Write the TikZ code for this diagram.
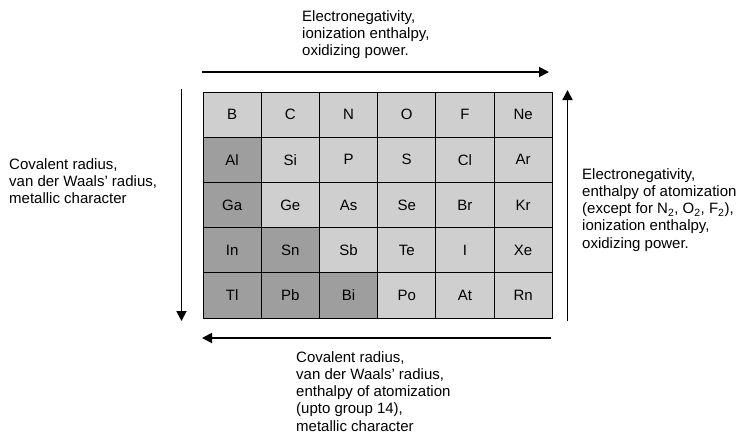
\documentclass[tikz,border=0pt]{standalone}
\usepackage{fontspec}
\setmainfont{Liberation Sans}
\usetikzlibrary{arrows.meta, positioning}

\begin{document}
\begin{tikzpicture}[
  x=1pt, y=-1pt,
  font=\fontsize{15}{17.3}\selectfont,
  every node/.style={inner sep=0pt},
  cell/.style ={rectangle, draw=black, line width=1pt, minimum width=58.2pt, minimum height=45.2pt},
  light/.style={cell, fill=black!19},
  dark/.style ={cell, fill=black!38},
  lbl/.style  ={align=left, anchor=north west},
  arr/.style  ={-{Triangle[length=10pt, width=10pt]}, draw=black, line width=1.8pt}
]
\useasboundingbox (0,0) rectangle (742,442);
% Grid coordinates in px from the top left: columns 58.2 apart, rows 45.2 apart
% Row 1 (y=114.6)
\node[light] (B)  at (232.1,114.6) {B};
\node[light] (C)  at (290.3,114.6) {C};
\node[light] (N)  at (348.5,114.6) {N};
\node[light] (O)  at (406.7,114.6) {O};
\node[light] (F)  at (464.9,114.6) {F};
\node[light] (Ne) at (523.1,114.6) {Ne};

% Row 2 (y=159.8)
\node[dark]  (Al) at (232.1,159.8) {Al};
\node[light] (Si) at (290.3,159.8) {Si};
\node[light] (P)  at (348.5,159.8) {P};
\node[light] (S)  at (406.7,159.8) {S};
\node[light] (Cl) at (464.9,159.8) {Cl};
\node[light] (Ar) at (523.1,159.8) {Ar};

% Row 3 (y=205)
\node[dark]  (Ga) at (232.1,205) {Ga};
\node[light] (Ge) at (290.3,205) {Ge};
\node[light] (As) at (348.5,205) {As};
\node[light] (Se) at (406.7,205) {Se};
\node[light] (Br) at (464.9,205) {Br};
\node[light] (Kr) at (523.1,205) {Kr};

% Row 4 (y=250.2)
\node[dark]  (In) at (232.1,250.2) {In};
\node[dark]  (Sn) at (290.3,250.2) {Sn};
\node[light] (Sb) at (348.5,250.2) {Sb};
\node[light] (Te) at (406.7,250.2) {Te};
\node[light] (I)  at (464.9,250.2) {I};
\node[light] (Xe) at (523.1,250.2) {Xe};

% Row 5 (y=295.4)
\node[dark]  (Tl) at (232.1,295.4) {Tl};
\node[dark]  (Pb) at (290.3,295.4) {Pb};
\node[dark]  (Bi) at (348.5,295.4) {Bi};
\node[light] (Po) at (406.7,295.4) {Po};
\node[light] (At) at (464.9,295.4) {At};
\node[light] (Rn) at (523.1,295.4) {Rn};

% Trend labels round the grid
\node[lbl] (topText)   at (302,10)  {Electronegativity,\\ionization enthalpy,\\oxidizing power.};
\node[lbl] (leftText)  at (9,158)  {Covalent radius,\\van der Waals' radius,\\metallic character};
\node[lbl] (rightText) at (582,168) {Electronegativity,\\enthalpy of atomization\\(except for N\textsubscript{2}, O\textsubscript{2}, F\textsubscript{2}),\\ionization enthalpy,\\oxidizing power.};
\node[lbl] (botText)   at (296,351) {Covalent radius,\\van der Waals' radius,\\enthalpy of atomization\\(upto group 14),\\metallic character};

% Arrow ends
\coordinate (topS)   at (202,72);
\coordinate (topE)   at (549,72);
\coordinate (leftS)  at (181.5,89);
\coordinate (leftE)  at (181.5,321);
\coordinate (rightS) at (567.5,321);
\coordinate (rightE) at (567.5,90);
\coordinate (botS)   at (551,338);
\coordinate (botE)   at (202,338);

% Arrows
\draw[arr] (topS)   -- (topE);
\draw[arr] (leftS)  -- (leftE);
\draw[arr] (rightS) -- (rightE);
\draw[arr] (botS)   -- (botE);
\end{tikzpicture}
\end{document}
